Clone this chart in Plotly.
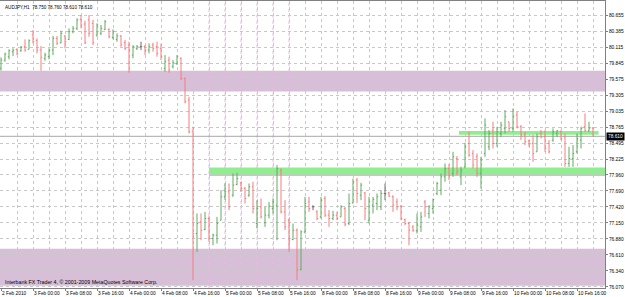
import plotly.graph_objects as go

# ---------------- data (AUDJPY H1, 2 Feb 2010 16:00 -> 10 Feb 2010 20:00) ----------------
opens = [79.755, 79.896, 79.952, 80.036, 80.076, 80.053, 80.121, 80.076, 80.317, 80.222,
         80.064, 79.924, 79.952, 80.064, 80.261, 80.188, 80.301, 80.244, 80.374, 80.430,
         80.582, 80.503, 80.571, 80.514, 80.317, 80.346, 80.413, 80.413, 80.278, 80.244,
         80.301, 80.188, 80.149, 79.980, 80.093, 80.121, 80.121, 80.064, 80.149, 80.121,
         80.093, 79.755, 79.896, 79.783, 79.839, 79.924, 79.586, 79.221, 78.687, 76.971,
         77.168, 77.039, 77.224, 76.887, 76.943, 77.196, 77.590, 77.674, 77.618, 77.798,
         77.826, 77.730, 77.618, 77.759, 77.140, 77.421, 77.151, 77.281, 77.393, 77.449,
         78.040, 77.337, 77.196, 76.870, 77.027, 76.364, 76.999, 77.505, 77.421, 77.337,
         77.252, 77.562, 77.281, 77.224, 77.281, 77.252, 77.393, 77.140, 77.489, 77.871,
         77.618, 77.657, 77.196, 77.449, 77.477, 77.421, 77.646, 77.657, 77.590, 77.505,
         77.432, 77.207, 77.140, 77.084, 77.016, 77.084, 77.505, 77.309, 77.393, 77.646,
         77.702, 77.927, 78.068, 77.984, 78.237, 77.927, 78.096, 78.490, 78.321, 78.265,
         77.984, 78.321, 78.433, 78.715, 78.490, 78.658, 78.743, 78.855, 78.743, 78.968,
         78.771, 78.630, 78.535, 78.490, 78.349, 78.658, 78.602, 78.490, 78.546, 78.658,
         78.687, 78.602, 78.152, 78.237, 78.349, 78.546, 78.771, 78.703, 78.750]
highs = [79.941, 80.019, 80.076, 80.093, 80.093, 80.132, 80.244, 80.244, 80.402, 80.261,
         80.132, 80.019, 80.093, 80.301, 80.301, 80.391, 80.317, 80.430, 80.469, 80.599,
         80.655, 80.559, 80.655, 80.571, 80.514, 80.486, 80.571, 80.430, 80.413, 80.346,
         80.317, 80.233, 80.205, 80.149, 80.149, 80.205, 80.149, 80.177, 80.188, 80.205,
         80.166, 79.980, 79.952, 79.896, 79.980, 79.941, 79.603, 79.277, 78.771, 77.309,
         77.309, 77.337, 77.264, 76.971, 77.252, 77.702, 77.815, 77.815, 77.984, 77.995,
         77.843, 77.759, 77.815, 77.843, 77.534, 77.562, 77.421, 77.505, 77.562, 78.124,
         78.068, 77.534, 77.224, 77.140, 77.056, 77.027, 77.590, 77.590, 77.449, 77.365,
         77.590, 77.601, 77.365, 77.354, 77.337, 77.449, 77.421, 77.646, 77.899, 77.910,
         77.826, 77.674, 77.590, 77.590, 77.646, 77.702, 77.815, 77.674, 77.618, 77.562,
         77.449, 77.224, 77.168, 77.112, 77.309, 77.337, 77.534, 77.449, 77.562, 77.843,
         77.984, 78.152, 78.141, 78.349, 78.276, 78.096, 78.501, 78.687, 78.377, 78.321,
         78.265, 78.911, 78.715, 78.855, 78.771, 78.855, 79.052, 78.855, 79.080, 79.024,
         78.799, 78.687, 78.546, 78.630, 78.658, 78.715, 78.715, 78.546, 78.743, 78.715,
         78.715, 78.658, 78.433, 78.462, 78.658, 78.771, 78.996, 78.855, 78.760]
lows = [79.716, 79.868, 79.907, 79.963, 79.980, 80.036, 80.036, 80.076, 80.177, 80.008,
        79.716, 79.884, 79.907, 79.980, 80.149, 80.177, 80.093, 80.233, 80.346, 80.402,
        80.430, 80.166, 80.289, 80.149, 80.289, 80.317, 80.402, 80.261, 80.244, 80.205,
        80.121, 80.064, 79.682, 79.924, 80.064, 80.064, 79.980, 80.008, 80.036, 79.952,
        79.896, 79.699, 79.682, 79.755, 79.811, 79.558, 79.165, 78.658, 76.184, 76.662,
        76.859, 77.027, 76.831, 76.774, 76.802, 77.196, 77.534, 77.365, 77.590, 77.787,
        77.674, 77.477, 77.590, 77.309, 77.056, 77.224, 77.084, 77.224, 77.309, 76.859,
        77.309, 77.027, 76.662, 76.859, 76.184, 76.353, 76.971, 77.337, 77.365, 77.196,
        77.224, 77.252, 77.084, 77.196, 77.196, 77.252, 77.095, 77.112, 77.477, 77.489,
        77.534, 77.196, 77.140, 77.309, 77.365, 77.365, 77.534, 77.590, 77.337, 77.365,
        77.196, 77.112, 76.774, 76.999, 76.971, 76.999, 77.252, 77.224, 77.309, 77.618,
        77.618, 77.843, 77.871, 77.927, 77.955, 77.787, 78.068, 78.265, 78.068, 77.927,
        77.730, 78.265, 78.377, 78.405, 78.433, 78.602, 78.658, 78.687, 78.687, 78.743,
        78.546, 78.462, 78.433, 78.180, 78.349, 78.574, 78.349, 78.321, 78.518, 78.602,
        78.546, 78.096, 78.096, 78.096, 78.321, 78.405, 78.687, 78.687, 78.610]
closes = [79.896, 79.997, 80.053, 80.064, 80.008, 80.109, 80.064, 80.222, 80.205, 80.064,
          79.941, 79.980, 80.064, 80.261, 80.177, 80.346, 80.205, 80.374, 80.430, 80.571,
          80.486, 80.188, 80.346, 80.188, 80.486, 80.430, 80.542, 80.289, 80.374, 80.301,
          80.149, 80.093, 80.064, 80.121, 80.121, 80.121, 80.053, 80.121, 80.093, 80.008,
          79.952, 79.868, 79.727, 79.851, 79.952, 79.586, 79.193, 78.687, 76.971, 77.140,
          77.027, 77.224, 76.887, 76.943, 77.140, 77.590, 77.674, 77.421, 77.787, 77.899,
          77.730, 77.562, 77.759, 77.393, 77.393, 77.252, 77.281, 77.432, 77.505, 78.068,
          77.337, 77.084, 76.859, 77.027, 76.353, 76.999, 77.477, 77.393, 77.421, 77.224,
          77.534, 77.281, 77.224, 77.281, 77.224, 77.421, 77.129, 77.477, 77.843, 77.646,
          77.787, 77.393, 77.505, 77.545, 77.590, 77.646, 77.646, 77.601, 77.449, 77.421,
          77.224, 77.140, 77.027, 77.027, 77.112, 77.252, 77.421, 77.421, 77.545, 77.815,
          77.927, 78.068, 77.955, 78.265, 78.012, 78.040, 78.433, 78.293, 78.124, 77.984,
          78.208, 78.799, 78.658, 78.490, 78.687, 78.799, 78.940, 78.743, 78.940, 78.771,
          78.630, 78.518, 78.478, 78.321, 78.602, 78.602, 78.405, 78.349, 78.687, 78.703,
          78.574, 78.152, 78.237, 78.321, 78.574, 78.743, 78.703, 78.748, 78.610]

x_tick_labels = ["2 Feb 2010", "3 Feb 00:00", "3 Feb 08:00", "3 Feb 16:00", "4 Feb 00:00",
                 "4 Feb 08:00", "4 Feb 16:00", "5 Feb 00:00", "5 Feb 08:00", "5 Feb 16:00",
                 "8 Feb 00:00", "8 Feb 08:00", "8 Feb 16:00", "9 Feb 00:00", "9 Feb 08:00",
                 "9 Feb 16:00", "10 Feb 00:00", "10 Feb 08:00", "10 Feb 16:00"]
bars_per_label = 8
y_tick_labels = ["80.655", "80.385", "80.115", "79.845", "79.575", "79.305", "79.035",
                 "78.765", "78.495", "78.225", "77.960", "77.690", "77.420", "77.150",
                 "76.880", "76.610", "76.340", "76.070"]

# zones drawn on the chart (price levels)
purple_zones = [(79.367, 79.716), (76.09, 76.713)]
green_zones = [(52, 152, 77.939, 78.085), (114.5, 149.4, 78.636, 78.698)]
separator_bars = [52, 56, 60, 64, 68, 72]
bid = 78.610
title_text = "AUDJPY,H1  78.750 78.760 78.610 78.610"
footer_text = "Interbank FX Trader 4, \u00a9 2001-2009 MetaQuotes Software Corp."

# ---------------- figure ----------------
n = len(opens)
idx = list(range(n))
doji = [i for i in idx if opens[i] == closes[i]]
normal = [i for i in idx if opens[i] != closes[i]]

GREEN = "#62A862"
RED = "#F27C7C"
FONT = "Liberation Sans"
TICK_SIZE = 4.8

fig = go.Figure()
fig.add_trace(go.Ohlc(
    x=normal,
    open=[opens[i] for i in normal], high=[highs[i] for i in normal],
    low=[lows[i] for i in normal], close=[closes[i] for i in normal],
    increasing=dict(line=dict(color=GREEN, width=1)),
    decreasing=dict(line=dict(color=RED, width=1)),
    tickwidth=0.3, hoverinfo="skip", showlegend=False))
fig.add_trace(go.Ohlc(
    x=doji,
    open=[opens[i] for i in doji], high=[highs[i] for i in doji],
    low=[lows[i] for i in doji], close=[closes[i] for i in doji],
    increasing=dict(line=dict(color="#6E6E6E", width=1)),
    decreasing=dict(line=dict(color="#6E6E6E", width=1)),
    tickwidth=0.3, hoverinfo="skip", showlegend=False))

shapes = []
for y0, y1 in purple_zones:
    shapes.append(dict(type="rect", xref="paper", yref="y", x0=0, x1=1, y0=y0, y1=y1,
                       fillcolor="#D8BFD8", line=dict(width=0), layer="below"))
for x0, x1, y0, y1 in green_zones:
    shapes.append(dict(type="rect", xref="x", yref="y", x0=x0, x1=x1, y0=y0, y1=y1,
                       fillcolor="#90EE90", line=dict(width=0), layer="below"))
for s in separator_bars:
    shapes.append(dict(type="line", xref="x", yref="paper", x0=s, x1=s, y0=0, y1=1,
                       line=dict(color="#E8B8E8", width=1, dash="dot"), layer="between"))
shapes.append(dict(type="line", xref="paper", yref="y", x0=0, x1=1, y0=bid, y1=bid,
                   line=dict(color="#A8A8A8", width=1), layer="between"))

annotations = [
    dict(text=title_text, xref="paper", yref="paper", x=0, y=1, xanchor="left", yanchor="top",
         xshift=3, yshift=-2, showarrow=False, font=dict(family=FONT, size=4.6, color="black")),
    dict(text=footer_text, xref="paper", yref="paper", x=0, y=0, xanchor="left", yanchor="bottom",
         xshift=3, yshift=1, showarrow=False, font=dict(family=FONT, size=5.3, color="black")),
    dict(text=f"{bid:.3f}", xref="paper", yref="y", x=1, y=bid, xanchor="left", yanchor="middle",
         xshift=1, showarrow=False, bgcolor="black", borderpad=1,
         font=dict(family=FONT, size=TICK_SIZE, color="white")),
]

fig.update_layout(
    width=625, height=297,
    margin=dict(l=0, r=20, t=1, b=9),
    paper_bgcolor="white", plot_bgcolor="white",
    shapes=shapes, annotations=annotations,
    showlegend=False,
    font=dict(family=FONT, size=TICK_SIZE, color="black"),
    xaxis=dict(
        range=[-0.25, 151],
        tickvals=[k * bars_per_label for k in range(len(x_tick_labels))],
        ticktext=x_tick_labels,
        tickangle=0, automargin=False,
        ticklabelposition="outside right",
        ticks="outside", ticklen=2, tickcolor="#808080",
        showgrid=True, gridcolor="#C8C8C8", griddash="dot", gridwidth=1,
        minor=dict(tick0=0, dtick=bars_per_label // 2, showgrid=True,
                   gridcolor="#C8C8C8", griddash="dot", gridwidth=1),
        showline=True, linecolor="#808080", mirror=True,
        zeroline=False, rangeslider=dict(visible=False),
        tickfont=dict(family=FONT, size=TICK_SIZE, color="black"),
    ),
    yaxis=dict(
        range=[76.053, 80.891],
        side="right", automargin=False,
        tickvals=[float(t) for t in y_tick_labels],
        ticktext=y_tick_labels,
        ticks="outside", ticklen=2, tickcolor="#808080",
        showgrid=True, gridcolor="#C8C8C8", griddash="dot", gridwidth=1,
        showline=True, linecolor="#808080", mirror=True,
        zeroline=False,
        tickfont=dict(family=FONT, size=TICK_SIZE, color="black"),
    ),
)

fig.write_html("out.html")
